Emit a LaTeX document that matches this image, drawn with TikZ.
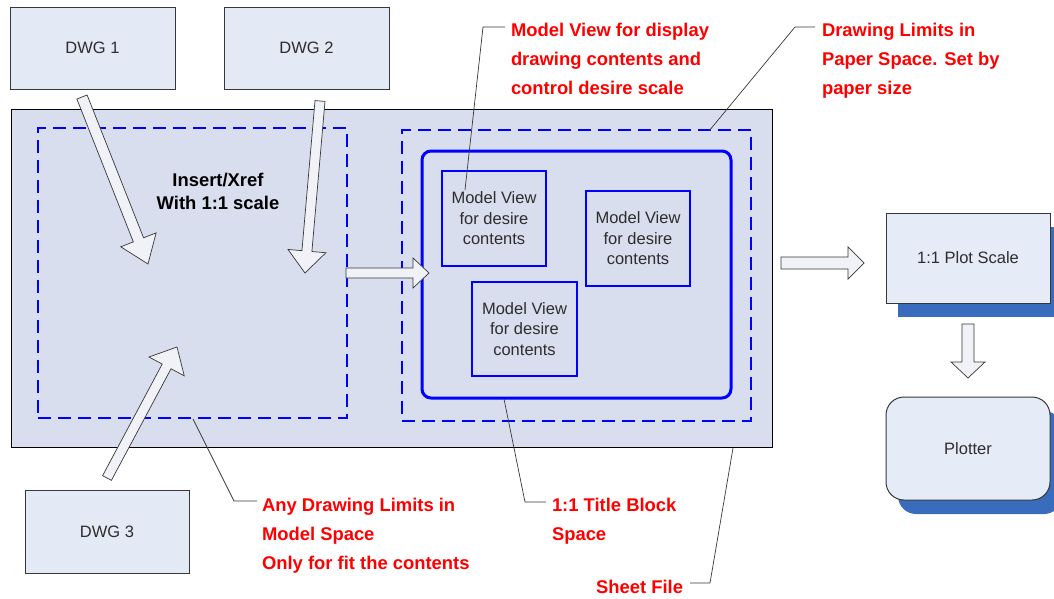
\documentclass[tikz,border=0pt]{standalone}
\usepackage{fontspec}
\setmainfont{Liberation Sans}
\usetikzlibrary{calc,shadows}

\definecolor{sheetfill}{RGB}{216,222,238}
\definecolor{boxfill}{RGB}{227,233,245}
\definecolor{plotfill}{RGB}{229,236,248}
\definecolor{shadowblue}{RGB}{58,108,190}
\definecolor{arrowfill}{RGB}{240,242,247}
\definecolor{boxtext}{RGB}{45,45,45}
\definecolor{edgegray}{RGB}{55,55,55}
\definecolor{limitblue}{RGB}{0,0,255}
\definecolor{notered}{RGB}{255,0,0}

% hollow block arrow: #1 tail, #2 tip, #3 shaft half width, #4 head half width, #5 head length
\newcommand\blockarrow[5]{%
  \coordinate (babase) at ($(#2)!#5!(#1)$);
  \draw[flowarrow] ($(#1)!#3!90:(#2)$) -- ($(babase)!#3!90:(#2)$) -- ($(babase)!#4!90:(#2)$)
    -- (#2) -- ($(babase)!#4!-90:(#2)$) -- ($(babase)!#3!-90:(#2)$) -- ($(#1)!#3!-90:(#2)$) -- cycle;}

\begin{document}
\begin{tikzpicture}[x=1pt,y=-1pt,
  every node/.style={inner sep=0pt, outer sep=0pt},
  dwgbox/.style={draw=edgegray, line width=1pt, fill=boxfill, text=boxtext,
    font=\fontsize{16.5}{20.5}\selectfont, anchor=north west},
  sheetbox/.style={draw=black, line width=1pt, fill=sheetfill, anchor=north west},
  limitbox/.style={draw=limitblue, line width=2.8pt, dash pattern=on 13pt off 7pt, anchor=north west},
  titlebox/.style={draw=limitblue, line width=3pt, rounded corners=9pt, anchor=north west},
  viewbox/.style={draw=limitblue, line width=2pt, text=boxtext, align=center,
    font=\fontsize{16.5}{20.5}\selectfont, anchor=north west},
  plotbox/.style={draw=edgegray, line width=1pt, fill=plotfill, text=boxtext,
    font=\fontsize{16.5}{20.5}\selectfont, anchor=north west,
    general shadow={fill=shadowblue, shadow xshift=12pt, shadow yshift=-14pt}},
  note/.style={text=notered, align=left, font=\fontsize{18.4}{28.6}\selectfont\bfseries},
  leader/.style={draw=edgegray, line width=0.7pt},
  flowarrow/.style={draw=edgegray, line width=0.7pt, fill=arrowfill, line join=miter}]

\useasboundingbox (0,0) rectangle (1054,598);

% source drawings
\node[dwgbox, minimum width=165pt, minimum height=82pt] (dwg1) at (10,7) {DWG 1};
\node[dwgbox, minimum width=165pt, minimum height=82pt] (dwg2) at (224,7) {DWG 2};
\node[dwgbox, minimum width=164pt, minimum height=83pt] (dwg3) at (25,490) {DWG 3};

% sheet file with model and paper space
\node[sheetbox, minimum width=761pt, minimum height=338pt] (sheet) at (11,109) {};
\node[limitbox, minimum width=309pt, minimum height=290pt] (mlim) at (38,128) {};
\node[limitbox, minimum width=349pt, minimum height=291pt] (plim) at (402,130) {};
\node[titlebox, minimum width=309pt, minimum height=247pt] (title) at (422,151) {};
\node[viewbox, minimum width=104pt, minimum height=95pt] (mv1) at (442,171) {Model View\\for desire\\contents};
\node[viewbox, minimum width=104pt, minimum height=95pt] (mv2) at (586,191) {Model View\\for desire\\contents};
\node[viewbox, minimum width=105pt, minimum height=94pt] (mv3) at (472,282) {Model View\\for desire\\contents};
\node[text=black, align=center, font=\fontsize{18.4}{23}\selectfont\bfseries] (ins) at (218,191) {Insert/Xref\\With 1:1 scale};

% output
\node[plotbox, minimum width=164pt, minimum height=90pt] (plot) at (886,213) {1:1 Plot Scale};
\node[plotbox, rounded corners=18pt, minimum width=164pt, minimum height=103pt] (plotter) at (886,397) {Plotter};

% block arrows
\coordinate (a1t) at (82,97);   \coordinate (a1h) at (148,264);
\coordinate (a2t) at (320,101); \coordinate (a2h) at (305,273);
\coordinate (a3t) at (107,478); \coordinate (a3h) at (177,347);
\coordinate (a4t) at (346,273); \coordinate (a4h) at (429,273);
\coordinate (a5t) at (781,263); \coordinate (a5h) at (864,263);
\coordinate (a6t) at (968,324); \coordinate (a6h) at (968,378);
\blockarrow{a1t}{a1h}{5.5pt}{19pt}{26pt}
\blockarrow{a2t}{a2h}{5pt}{19pt}{22pt}
\blockarrow{a3t}{a3h}{5pt}{20pt}{22pt}
\blockarrow{a4t}{a4h}{5pt}{15pt}{16pt}
\blockarrow{a5t}{a5h}{6pt}{16pt}{16pt}
\blockarrow{a6t}{a6h}{6pt}{17pt}{16pt}

% notes (base anchor sits on the last line)
\node[note, anchor=base west] (n1) at (511,94) {Model View for display\\drawing contents and\\control desire scale};
\node[note, anchor=base west] (n2) at (822,94) {Drawing Limits in\\Paper Space. Set by\\paper size};
\node[note, anchor=base west] (n3) at (262,569) {Any Drawing Limits in\\Model Space\\Only for fit the contents};
\node[note, anchor=base west] (n4) at (552,540) {1:1 Title Block\\Space};
\node[note, anchor=base east] (n5) at (683,593) {Sheet File};

% leader lines
\coordinate (l1s) at (505,27);  \coordinate (l1k) at (483,27);  \coordinate (l1e) at (465,190);
\coordinate (l2s) at (815,27);  \coordinate (l2k) at (795,27);  \coordinate (l2e) at (709,131);
\coordinate (l3s) at (257,501); \coordinate (l3k) at (234,501); \coordinate (l3e) at (193,419);
\coordinate (l4s) at (546,502); \coordinate (l4k) at (525,502); \coordinate (l4e) at (504,399);
\coordinate (l5s) at (690,583); \coordinate (l5k) at (710,583); \coordinate (l5e) at (733,448);
\draw[leader] (l1s) -- (l1k) -- (l1e);
\draw[leader] (l2s) -- (l2k) -- (l2e);
\draw[leader] (l3s) -- (l3k) -- (l3e);
\draw[leader] (l4s) -- (l4k) -- (l4e);
\draw[leader] (l5s) -- (l5k) -- (l5e);
\end{tikzpicture}
\end{document}
